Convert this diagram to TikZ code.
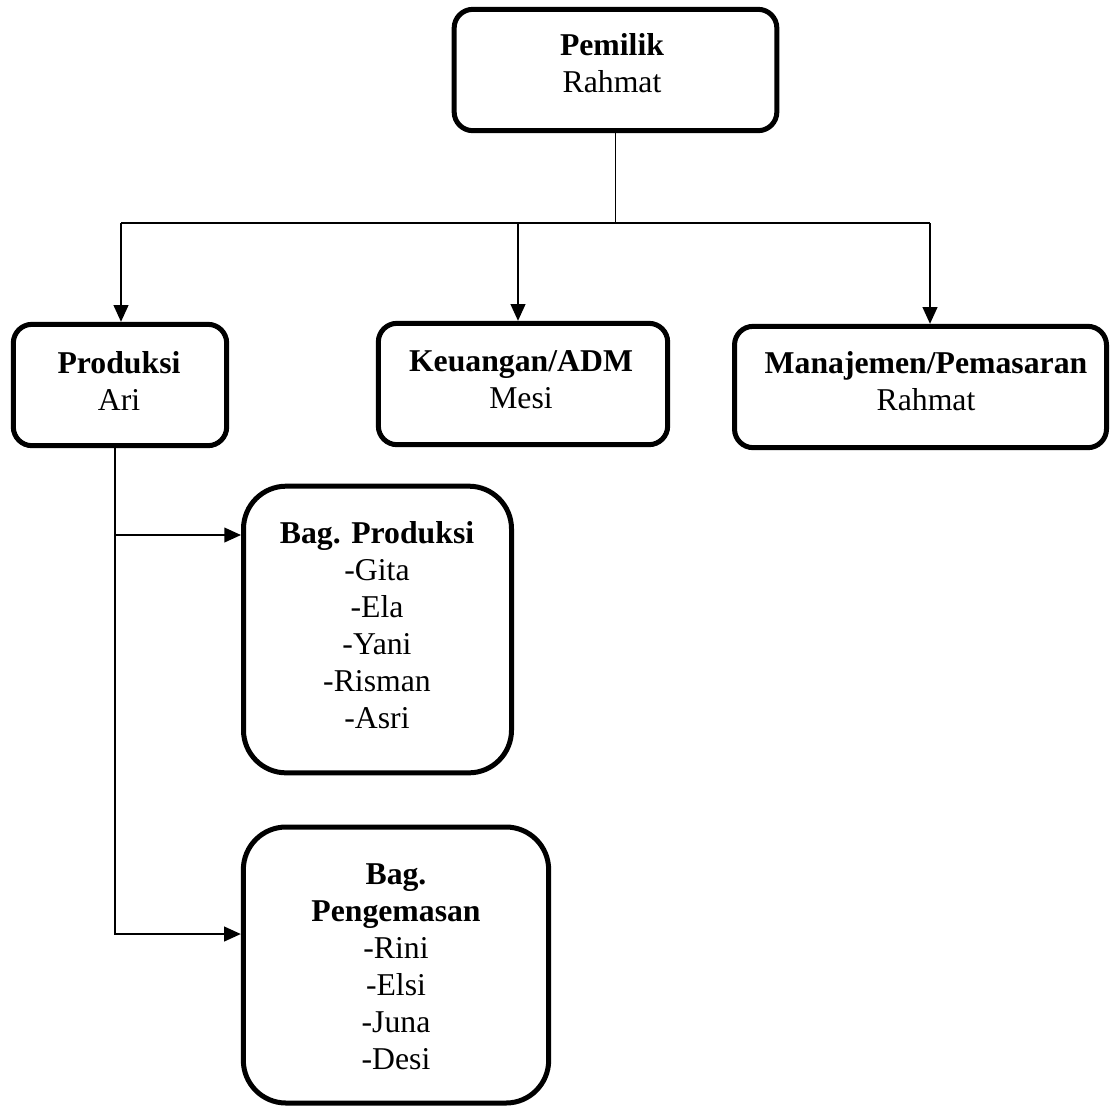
\documentclass[tikz,border=0pt]{standalone}
\usepackage{fontspec}
\setmainfont{Liberation Serif}
\usepackage{tikz}
\usetikzlibrary{positioning, arrows.meta}
\tikzset{
    box/.style={
        draw, line width=3.75pt,
        rounded corners=14pt,
        inner sep=0pt
    },
    bigbox/.style={box, rounded corners=32pt},
    boxtext/.style={
        anchor=north, inner sep=0pt,
        align=center,
        font=\fontsize{23.8pt}{27.75pt}\selectfont
    },
    line/.style={line width=1.4pt},
    arrow/.style={line, -{Triangle[length=12.5pt, width=11pt]}}
}

\begin{document}
\begin{tikzpicture}[x=0.75pt, y=-0.75pt]

    \useasboundingbox (0,0) rectangle (1112,1108);

    % Boxes
    \node[box, minimum width=242pt, minimum height=91pt] (pemilik) at (615.5,70) {};
    \node[box, minimum width=160pt, minimum height=91pt] (produksi) at (120,385) {};
    \node[box, minimum width=217pt, minimum height=91pt] (keuangan) at (523,384) {};
    \node[box, minimum width=279pt, minimum height=91pt] (manajemen) at (920.5,387) {};
    \node[bigbox, minimum width=201pt, minimum height=215pt] (bagprod) at (377.5,629.5) {};
    \node[bigbox, minimum width=229pt, minimum height=207pt] (bagkemas) at (396,965) {};

    % Texts
    \node[boxtext] (pemiliktext) at (612,33) {\textbf{Pemilik}\\Rahmat};
    \node[boxtext] (produksitext) at (119,351) {\textbf{Produksi}\\Ari};
    \node[boxtext] (keuangantext) at (521,350) {\textbf{Keuangan/ADM}\\Mesi};
    \node[boxtext] (manajementext) at (926,351) {\textbf{Manajemen/Pemasaran}\\Rahmat};
    \node[boxtext] (bagprodtext) at (377,521) {\textbf{Bag. Produksi}\\-Gita\\-Ela\\-Yani\\-Risman\\-Asri};
    \node[boxtext] (bagkemastext) at (396,863) {\textbf{Bag.}\\\textbf{Pengemasan}\\-Rini\\-Elsi\\-Juna\\-Desi};

    % Lines
    \coordinate (busleft) at (121,223);
    \coordinate (busmid) at (518,223);
    \coordinate (busright) at (930,223);
    \draw[line] (pemilik.south) |- (busleft);
    \draw[line] (pemilik.south) |- (busright);
    \draw[arrow] (busleft) -- (busleft |- produksi.north);
    \draw[arrow] (busmid) -- (busmid |- keuangan.north);
    \draw[arrow] (busright) -- (busright |- manajemen.north);

    \coordinate (prodtop) at ([xshift=-4pt]produksi.south);
    \coordinate (split1) at (115,535);
    \coordinate (split2) at (115,934);
    \draw[arrow] (split1) -- (split1 -| bagprod.west);
    \draw[arrow] (prodtop) |- (bagkemas.west |- split2);

\end{tikzpicture}
\end{document}
